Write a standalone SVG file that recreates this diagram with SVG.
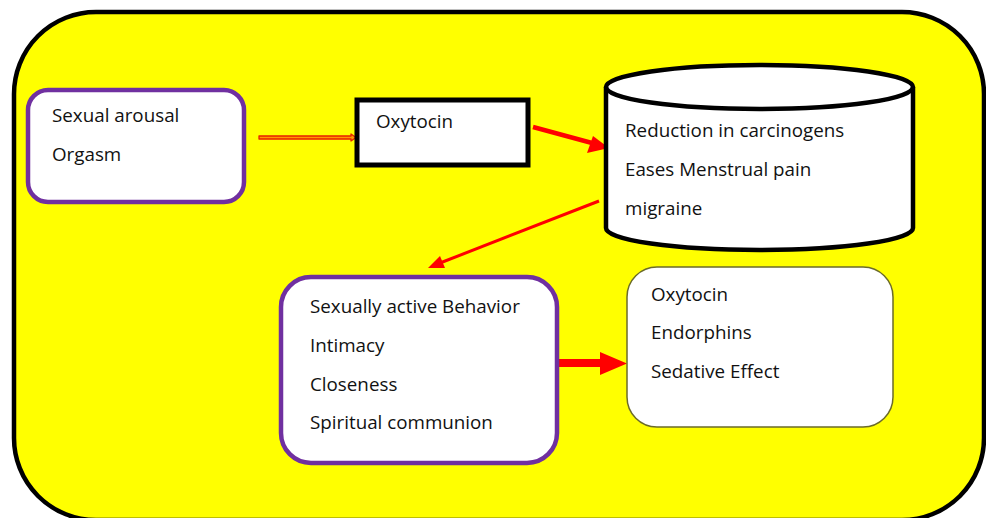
<svg xmlns="http://www.w3.org/2000/svg" width="986" height="518" viewBox="0 0 986 518">
<style>
  .t { font-family: "Open Sans", "Noto Sans", sans-serif; font-size: 18.8px; fill: #111111; }
  .purple { fill: #ffffff; stroke: #7030A0; stroke-width: 4.5; }
</style>
<rect x="0" y="0" width="986" height="518" fill="#ffffff"/>
<g id="background">
  <rect x="14" y="12" width="970" height="508" rx="82" ry="82" fill="#FFFF00" stroke="#000000" stroke-width="4.5"/>
</g>
<g id="connectors">
  <polygon points="259,136 351,136 351,134 356,137.5 351,141 351,139 259,139" fill="#FF9900" stroke="#E82000" stroke-width="1.3" stroke-linejoin="round"/>
  <line x1="533" y1="127" x2="592" y2="143" stroke="#FF0000" stroke-width="4.5"/>
  <polygon points="609,148 587,153 593,136" fill="#FF0000"/>
  <line x1="599" y1="201" x2="440" y2="263" stroke="#FF0000" stroke-width="3"/>
  <polygon points="428,268 440,256 445,268" fill="#FF0000"/>
  <polygon points="558,359 600,359 600,352 627,363.5 600,375 600,367 558,367" fill="#FF0000"/>
</g>
<g id="node-arousal">
  <rect class="purple" x="28" y="90" width="216" height="112" rx="20" ry="20"/>
  <text class="t" x="52" y="122">Sexual arousal</text>
  <text class="t" x="52" y="161">Orgasm</text>
</g>
<g id="node-oxytocin">
  <rect x="357" y="100" width="171" height="65" fill="#ffffff" stroke="#000000" stroke-width="5"/>
  <text class="t" x="376" y="128">Oxytocin</text>
</g>
<g id="node-benefits">
  <path d="M606,87 L606,228 A153.5,22 0 0 0 913,228 L913,87 A153.5,22 0 0 0 606,87 Z" fill="#ffffff" stroke="#000000" stroke-width="4.5"/>
  <path d="M606,87 A153.5,22 0 0 0 913,87" fill="none" stroke="#000000" stroke-width="4.5"/>
  <text class="t" x="625" y="137">Reduction in carcinogens</text>
  <text class="t" x="625" y="176">Eases Menstrual pain</text>
  <text class="t" x="625" y="215">migraine</text>
</g>
<g id="node-behavior">
  <rect class="purple" x="281" y="277" width="276" height="186" rx="30" ry="30"/>
  <text class="t" x="310" y="313">Sexually active Behavior</text>
  <text class="t" x="310" y="352">Intimacy</text>
  <text class="t" x="310" y="391">Closeness</text>
  <text class="t" x="310" y="429">Spiritual communion</text>
</g>
<g id="node-hormones">
  <rect x="627" y="267" width="266" height="160" rx="30" ry="30" fill="#ffffff" stroke="#6B6B2A" stroke-width="1.5"/>
  <text class="t" x="651" y="301">Oxytocin</text>
  <text class="t" x="651" y="339">Endorphins</text>
  <text class="t" x="651" y="378">Sedative Effect</text>
</g>
</svg>
